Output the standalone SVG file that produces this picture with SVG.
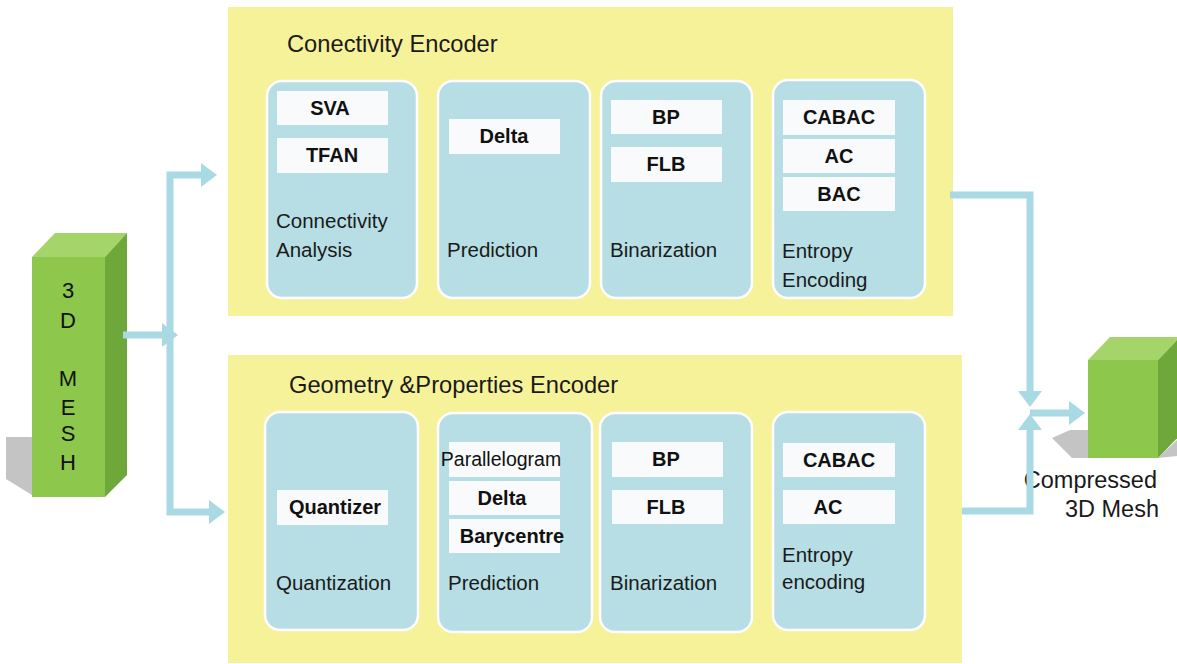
<svg xmlns="http://www.w3.org/2000/svg" width="1177" height="664" viewBox="0 0 1177 664">
<style>
.panel{fill:#F6F29A}
.stage{fill:#B6DEE4;stroke:#FFFFFF;stroke-width:2.5}
.chip{fill:#F8FAFB}
.title{font-family:"Liberation Sans",Arial,sans-serif;font-size:23.7px;fill:#1A1A1A}
.lbl{font-family:"Liberation Sans",Arial,sans-serif;font-size:20.5px;fill:#1A1A1A}
.chipt{font-family:"Liberation Sans",Arial,sans-serif;font-size:20px;font-weight:bold;fill:#111;text-anchor:middle}
.chipr{font-family:"Liberation Sans",Arial,sans-serif;font-size:19.5px;fill:#111;text-anchor:middle}
.mesh{font-family:"Liberation Sans",Arial,sans-serif;font-size:22px;fill:#111;text-anchor:middle}
.out{font-family:"Liberation Sans",Arial,sans-serif;font-size:23.5px;fill:#1A1A1A;text-anchor:end}
.conn{fill:none;stroke:#A9DAE3;stroke-width:7}
.shadow{fill:#C4C4C4}
.gfront{fill:#8DC74C}
.gtop{fill:#A4D46A}
.gside{fill:#6EA83B}
</style>
<defs>
<marker id="ah" markerUnits="userSpaceOnUse" markerWidth="17" markerHeight="24" refX="6" refY="12" orient="auto">
<path d="M0,0 L16,12 L0,24 Z" fill="#A9DAE3"/>
</marker>
</defs>

<g id="mesh-input">
<polygon class="shadow" points="6,437 32,437 32,495 6,479"/>
<rect class="gfront" x="32" y="257" width="73" height="240"/>
<polygon class="gtop" points="32,257 55,233 127,233 105,257"/>
<polygon class="gside" points="105,257 127,233 127,475 105,497"/>
<text class="mesh" x="68" y="298">3</text>
<text class="mesh" x="68" y="328">D</text>
<text class="mesh" x="68" y="386">M</text>
<text class="mesh" x="68" y="415">E</text>
<text class="mesh" x="68" y="441">S</text>
<text class="mesh" x="68" y="470">H</text>
</g>

<g id="connectivity-encoder">
<rect class="panel" x="228" y="7" width="725" height="309"/>
<text class="title" x="287" y="52">Conectivity Encoder</text>
</g>

<g id="conn-analysis">
<rect class="stage" x="267" y="81" width="150" height="217" rx="15"/>
<rect class="chip" x="277" y="91" width="111" height="34"/>
<text class="chipt" x="330" y="115">SVA</text>
<rect class="chip" x="277" y="138" width="111" height="35"/>
<text class="chipt" x="332" y="162">TFAN</text>
<text class="lbl" x="276" y="228">Connectivity</text>
<text class="lbl" x="276" y="257">Analysis</text>
</g>

<g id="conn-prediction">
<rect class="stage" x="438" y="81" width="152" height="217" rx="15"/>
<rect class="chip" x="449" y="119" width="111" height="35"/>
<text class="chipt" x="504" y="143">Delta</text>
<text class="lbl" x="447" y="257">Prediction</text>
</g>

<g id="conn-binarization">
<rect class="stage" x="601" y="81" width="151" height="217" rx="15"/>
<rect class="chip" x="611" y="100" width="111" height="34"/>
<text class="chipt" x="666" y="124">BP</text>
<rect class="chip" x="611" y="147" width="111" height="35"/>
<text class="chipt" x="666" y="171">FLB</text>
<text class="lbl" x="610" y="257">Binarization</text>
</g>

<g id="conn-entropy">
<rect class="stage" x="773" y="80" width="152" height="218" rx="15"/>
<rect class="chip" x="783" y="100" width="112" height="35"/>
<text class="chipt" x="839" y="124">CABAC</text>
<rect class="chip" x="783" y="139" width="112" height="34"/>
<text class="chipt" x="839" y="163">AC</text>
<rect class="chip" x="783" y="177" width="112" height="34"/>
<text class="chipt" x="839" y="201">BAC</text>
<text class="lbl" x="782" y="258">Entropy</text>
<text class="lbl" x="782" y="287">Encoding</text>
</g>

<g id="geometry-encoder">
<rect class="panel" x="228" y="355" width="734" height="308"/>
<text class="title" x="289" y="393">Geometry &amp;Properties Encoder</text>
</g>

<g id="geo-quantization">
<rect class="stage" x="265" y="412" width="153" height="218" rx="15"/>
<rect class="chip" x="277" y="490" width="111" height="35"/>
<text class="chipt" x="335" y="514">Quantizer</text>
<text class="lbl" x="276" y="590">Quantization</text>
</g>

<g id="geo-prediction">
<rect class="stage" x="438" y="413" width="154" height="219" rx="15"/>
<rect class="chip" x="449" y="442" width="111" height="35"/>
<text class="chipr" x="501" y="466">Parallelogram</text>
<rect class="chip" x="449" y="481" width="111" height="34"/>
<text class="chipt" x="502" y="505">Delta</text>
<rect class="chip" x="449" y="519" width="111" height="34"/>
<text class="chipt" x="512" y="543">Barycentre</text>
<text class="lbl" x="448" y="590">Prediction</text>
</g>

<g id="geo-binarization">
<rect class="stage" x="600" y="413" width="152" height="219" rx="15"/>
<rect class="chip" x="612" y="442" width="111" height="35"/>
<text class="chipt" x="666" y="466">BP</text>
<rect class="chip" x="612" y="490" width="111" height="34"/>
<text class="chipt" x="666" y="514">FLB</text>
<text class="lbl" x="610" y="590">Binarization</text>
</g>

<g id="geo-entropy">
<rect class="stage" x="773" y="412" width="152" height="218" rx="15"/>
<rect class="chip" x="783" y="443" width="112" height="34"/>
<text class="chipt" x="839" y="467">CABAC</text>
<rect class="chip" x="783" y="490" width="112" height="34"/>
<text class="chipt" x="828" y="514">AC</text>
<text class="lbl" x="782" y="562">Entropy</text>
<text class="lbl" x="782" y="589">encoding</text>
</g>

<g id="compressed-mesh">
<polygon class="shadow" points="1052,438 1070,430 1088,430 1088,458 1072,458"/>
<polygon class="shadow" points="1158,458 1177,440 1177,456"/>
<rect class="gfront" x="1088" y="360" width="70" height="98"/>
<polygon class="gtop" points="1088,360 1110,337 1180,337 1158,360"/>
<polygon class="gside" points="1158,360 1180,337 1180,435 1158,458"/>
<text class="out" x="1157" y="488">Compressed</text>
<text class="out" x="1159" y="517">3D Mesh</text>
</g>

<g id="connectors">
<path class="conn" d="M170,335 V175 H207" marker-end="url(#ah)"/>
<path class="conn" d="M170,335 V512 H215" marker-end="url(#ah)"/>
<path class="conn" d="M123,335 H168" marker-end="url(#ah)"/>
<path class="conn" d="M950,195 H1030 V397" marker-end="url(#ah)"/>
<path class="conn" d="M962,511 H1030 V424" marker-end="url(#ah)"/>
<path class="conn" d="M1030,413 H1075" marker-end="url(#ah)"/>
</g>
</svg>
